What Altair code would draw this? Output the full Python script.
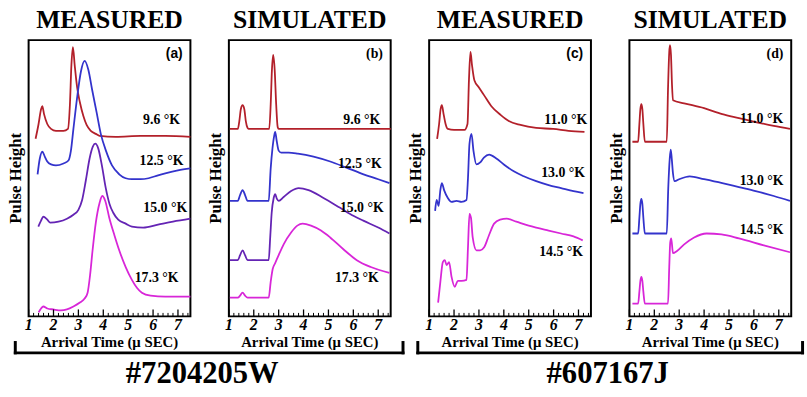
import altair as alt
import pandas as pd

SERIF = "Liberation Serif, Times New Roman, DejaVu Serif, serif"
SANS = "Liberation Sans, Arial, DejaVu Sans, sans-serif"

# ---------------- data ----------------
# Panel (a) MEASURED, #7204205W
a_red_x = [1.28, 1.4, 1.5, 1.55, 1.62, 1.75, 1.9, 2.1, 2.4, 2.58, 2.66, 2.72, 2.78, 2.85, 2.95, 3.06, 3.2, 3.33, 3.5, 3.7, 3.85, 4.5, 5.5, 6.5, 7.5]
a_red_y = [180, 195, 210, 213, 205, 195, 190, 188, 188, 190, 215, 255, 273, 255, 232, 217, 203, 194, 188, 185, 183, 182, 183, 183, 182]
a_blue_x = [1.36, 1.45, 1.55, 1.65, 1.75, 1.9, 2.1, 2.4, 2.6, 2.7, 2.8, 2.95, 3.1, 3.25, 3.4, 3.55, 3.73, 3.9, 4.12, 4.35, 4.64, 4.9, 5.15, 5.5, 5.82, 6.2, 6.49, 7.0, 7.5]
a_blue_y = [144, 160, 167, 162, 157, 154, 153, 155, 158, 168, 190, 222, 248, 259, 250, 230, 207, 185, 167, 153, 144, 140, 139, 139, 140, 143, 145, 148, 150]
a_purple_x = [1.39, 1.5, 1.59, 1.75, 1.87, 2.2, 2.54, 2.8, 3.0, 3.15, 3.3, 3.45, 3.58, 3.68, 3.8, 3.95, 4.1, 4.25, 4.4, 4.6, 4.9, 5.15, 5.6, 6.2, 6.8, 7.5]
a_purple_y = [91, 97, 101, 98, 95, 96, 99, 103, 108, 118, 138, 160, 172, 175, 170, 152, 130, 114, 105, 98, 94, 91, 90, 93, 96, 99]
a_mag_x = [1.4, 1.5, 1.59, 1.75, 1.99, 2.3, 2.54, 2.8, 3.06, 3.25, 3.37, 3.47, 3.57, 3.7, 3.85, 3.96, 4.08, 4.24, 4.45, 4.64, 4.9, 5.15, 5.35, 5.55, 5.9, 6.49, 7.0, 7.5]
a_mag_y = [4, 8, 10, 8, 7, 6, 7, 10, 14, 18, 24, 42, 67, 95, 115, 122, 117, 100, 82, 67, 50, 37, 29, 24, 21, 20, 20, 20]

# Panel (b) SIMULATED, #7204205W
b_red_x = [1.04, 1.36, 1.42, 1.48, 1.55, 1.62, 1.68, 1.75, 1.79, 2.62, 2.68, 2.73, 2.78, 2.84, 2.9, 2.96, 3.0, 7.5]
b_red_y = [190, 190, 198, 210, 214, 210, 198, 191, 190, 190, 215, 250, 265, 250, 215, 192, 190, 190]
b_blue_x = [1.04, 1.36, 1.45, 1.55, 1.65, 1.75, 2.6, 2.68, 2.75, 2.82, 2.86, 2.92, 3.0, 3.1, 3.4, 3.77, 4.4, 5.07, 5.7, 6.41, 7.0, 7.45]
b_blue_y = [117, 117, 123, 128, 123, 117, 117, 150, 170, 183, 187, 178, 168, 166, 166, 165, 162, 157, 151, 144, 139, 135]
b_purple_x = [1.04, 1.36, 1.45, 1.55, 1.65, 1.75, 2.6, 2.66, 2.72, 2.8, 2.86, 2.93, 3.0, 3.2, 3.5, 3.8, 4.2, 4.8, 5.47, 6.0, 6.4, 7.0, 7.45]
b_purple_y = [57, 57, 62, 67, 62, 57, 57, 80, 105, 120, 124, 119, 117, 121, 127, 130, 128, 120, 110, 102, 97, 90, 84]
b_mag_x = [1.04, 1.36, 1.45, 1.55, 1.65, 1.75, 2.6, 2.68, 2.76, 2.86, 3.0, 3.2, 3.5, 3.75, 3.96, 4.3, 4.7, 5.07, 5.6, 6.14, 6.7, 7.45]
b_mag_y = [19, 19, 21, 24, 21, 19, 19, 35, 48, 54, 62, 73, 85, 92, 94, 92, 87, 80, 68, 57, 50, 44]

# Panel (c) MEASURED, #607167J
c_red_x = [1.32, 1.4, 1.46, 1.51, 1.58, 1.66, 1.75, 2.0, 2.42, 2.54, 2.6, 2.66, 2.72, 2.82, 3.0, 3.21, 3.5, 3.88, 4.2, 4.67, 5.3, 5.98, 6.6, 7.24]
c_red_y = [180, 195, 210, 214, 205, 195, 190, 189, 189, 195, 240, 268, 255, 239, 232, 224, 213, 204, 198, 194, 191, 190, 188, 187]
c_blue_x = [1.24, 1.3, 1.38, 1.45, 1.51, 1.6, 1.75, 1.9, 2.1, 2.3, 2.5, 2.56, 2.62, 2.7, 2.78, 2.9, 3.05, 3.2, 3.41, 3.7, 4.0, 4.4, 4.8, 5.3, 5.8, 6.3, 6.8, 7.2]
c_blue_y = [107, 118, 112, 128, 135, 128, 120, 116, 117, 116, 118, 140, 175, 185, 168, 154, 156, 161, 164, 160, 154, 147, 142, 137, 133, 130, 127, 125]
c_mag_x = [1.36, 1.45, 1.55, 1.63, 1.7, 1.8, 1.9, 2.03, 2.15, 2.3, 2.5, 2.56, 2.62, 2.68, 2.75, 2.9, 3.05, 3.21, 3.4, 3.61, 3.85, 4.12, 4.5, 5.0, 5.3, 5.8, 6.3, 6.8, 7.17]
c_mag_y = [14, 35, 55, 57, 52, 55, 40, 30, 36, 36, 37, 70, 104, 100, 80, 67, 67, 70, 82, 94, 98, 99, 96, 92, 90, 87, 84, 81, 77]

# Panel (d) SIMULATED, #607167J
d_red_x = [1.12, 1.35, 1.4, 1.44, 1.48, 1.52, 1.56, 1.62, 2.5, 2.55, 2.6, 2.63, 2.67, 2.71, 2.75, 3.2, 4.0, 4.73, 5.4, 6.07, 6.8, 7.45]
d_red_y = [177, 177, 195, 210, 215, 210, 195, 177, 177, 230, 268, 275, 265, 235, 219, 216, 211, 205, 201, 197, 193, 190]
d_blue_x = [1.12, 1.35, 1.4, 1.44, 1.48, 1.52, 1.56, 1.62, 2.5, 2.56, 2.62, 2.66, 2.7, 2.75, 2.82, 3.0, 3.42, 4.0, 4.73, 5.4, 6.07, 6.8, 7.45]
d_blue_y = [84, 84, 100, 114, 119, 114, 100, 84, 84, 130, 160, 169, 160, 145, 137, 139, 142, 139, 135, 131, 127, 122, 117]
d_mag_x = [1.12, 1.35, 1.4, 1.44, 1.48, 1.52, 1.56, 1.62, 2.55, 2.6, 2.64, 2.68, 2.75, 2.9, 3.2, 3.6, 4.1, 4.7, 5.4, 6.4, 7.45]
d_mag_y = [13, 13, 25, 36, 40, 36, 25, 13, 13, 50, 75, 79, 64, 66, 73, 80, 84, 83, 79, 72, 65]

# curve labels: text, x, y
a_labels = ["9.6 °K", "12.5 °K", "15.0 °K", "17.3 °K"]
a_lab_x = [6.34, 6.34, 6.49, 6.14]
a_lab_y = [199, 157, 110, 39]
b_labels = ["9.6 °K", "12.5 °K", "15.0 °K", "17.3 °K"]
b_lab_x = [6.34, 6.26, 6.34, 6.14]
b_lab_y = [199, 154, 110, 39]
c_labels = ["11.0 °K", "13.0 °K", "14.5 °K"]
c_lab_x = [6.49, 6.38, 6.30]
c_lab_y = [199, 145, 65]
d_labels = ["11.0 °K", "13.0 °K", "14.5 °K"]
d_lab_x = [6.31, 6.31, 6.31]
d_lab_y = [200, 137, 87]

panel_titles = ["MEASURED", "SIMULATED", "MEASURED", "SIMULATED"]
panel_tags = ["(a)", "(b)", "(c)", "(d)"]
sample_names = ["#7204205W", "#607167J"]
x_title = "Arrival Time (μ SEC)"
y_title = "Pulse Height"

tick_labels = [1, 2, 3, 4, 5, 6, 7]
major_ticks = [1, 2, 3, 4, 5, 6, 7]
minor_ticks = [1.2, 1.4, 1.6, 1.8, 2.2, 2.4, 2.6, 2.8, 3.2, 3.4, 3.6, 3.8, 4.2, 4.4, 4.6, 4.8,
               5.2, 5.4, 5.6, 5.8, 6.2, 6.4, 6.6, 6.8, 7.2, 7.4]

series_keys = ["red", "blue", "purple", "magenta"]
series_colors = ["#b3202a", "#3333cc", "#6424b4", "#d826d8"]

W, H = 164, 280
XSCALE = alt.Scale(domain=[1, 7.5], nice=False, zero=False)
YSCALE = alt.Scale(domain=[0, 280], nice=False, zero=False)


def series_df(pairs):
    rows = []
    for key, xs, ys in pairs:
        for i, (x, y) in enumerate(zip(xs, ys)):
            rows.append({"s": key, "x": x, "y": y, "i": i})
    return pd.DataFrame(rows)


def one_text(t):
    return pd.DataFrame({"t": [t]})


def xq():
    return alt.X("x:Q", scale=XSCALE, axis=None)


def yq():
    return alt.Y("y:Q", scale=YSCALE, axis=None)


def panel(pairs, labels, lab_x, lab_y, tag, tag_font, title):
    df = series_df(pairs)
    lines = alt.Chart(df).mark_line(strokeWidth=1.8, interpolate="monotone").encode(
        x=xq(), y=yq(),
        color=alt.Color("s:N", scale=alt.Scale(domain=series_keys, range=series_colors), legend=None),
        order="i:Q",
    )
    lab_df = pd.DataFrame({"t": labels, "x": lab_x, "y": lab_y})
    texts = alt.Chart(lab_df).mark_text(font=SERIF, fontSize=14, fontWeight="bold",
                                        color="black", align="center", baseline="middle").encode(
        x=xq(), y=yq(), text="t:N")
    tag_df = pd.DataFrame({"t": [tag], "x": [6.85], "y": [266]})
    tagm = alt.Chart(tag_df).mark_text(font=tag_font, fontSize=14, fontWeight="bold",
                                       color="black", align="center", baseline="middle").encode(
        x=xq(), y=yq(), text="t:N")
    maj = alt.Chart(pd.DataFrame({"x": major_ticks})).mark_rule(color="black", strokeWidth=1.3).encode(
        x=xq(), y=alt.value(H), y2=alt.value(H - 7))
    mnr = alt.Chart(pd.DataFrame({"x": minor_ticks})).mark_rule(color="black", strokeWidth=1).encode(
        x=xq(), y=alt.value(H), y2=alt.value(H - 3.5))
    ticklab = alt.Chart(pd.DataFrame({"x": tick_labels})).mark_text(
        font=SERIF, fontSize=16, fontStyle="italic", fontWeight="bold", color="black",
        align="center", baseline="middle").encode(
        x=xq(), y=alt.value(H + 9), text=alt.Text("x:Q", format="d"))
    xt = alt.Chart(one_text(x_title)).mark_text(
        font=SERIF, fontSize=15, fontWeight="bold", color="black",
        align="center", baseline="middle").encode(
        x=alt.value(W / 2), y=alt.value(H + 26), text="t:N")
    yt = alt.Chart(one_text(y_title)).mark_text(
        font=SERIF, fontSize=17, fontWeight="bold", color="black", angle=270,
        align="center", baseline="middle").encode(
        x=alt.value(-13), y=alt.value(H / 2), text="t:N")
    head = alt.Chart(one_text(title)).mark_text(
        font=SERIF, fontSize=26, fontWeight="bold", color="black",
        align="center", baseline="alphabetic").encode(
        x=alt.value(W / 2), y=alt.value(-12), text="t:N")
    return alt.layer(lines, texts, tagm, maj, mnr, ticklab, xt, yt, head).properties(width=W, height=H)


def bracket(x_left, x_right, label, label_x):
    y0 = 317
    hline = alt.Chart(one_text("")).mark_rule(color="black", strokeWidth=3).encode(
        x=alt.value(x_left), x2=alt.value(x_right), y=alt.value(y0))
    vl = alt.Chart(one_text("")).mark_rule(color="black", strokeWidth=3).encode(
        x=alt.value(x_left + 1.5), y=alt.value(305), y2=alt.value(y0 + 1.5))
    vr = alt.Chart(one_text("")).mark_rule(color="black", strokeWidth=3).encode(
        x=alt.value(x_right - 1.5), y=alt.value(305), y2=alt.value(y0 + 1.5))
    txt = alt.Chart(one_text(label)).mark_text(
        font=SERIF, fontSize=31, fontWeight="bold", color="black",
        align="center", baseline="alphabetic").encode(
        x=alt.value(label_x), y=alt.value(348), text="t:N")
    return [hline, vl, vr, txt]


# invisible anchor fixing the top-left corner of the whole picture
anchor = alt.Chart(one_text("")).mark_rule(color="white", strokeWidth=0.01, opacity=0).encode(
    x=alt.value(-28), y=alt.value(-37), y2=alt.value(-36))

pa = panel([("red", a_red_x, a_red_y), ("blue", a_blue_x, a_blue_y),
            ("purple", a_purple_x, a_purple_y), ("magenta", a_mag_x, a_mag_y)],
           a_labels, a_lab_x, a_lab_y, panel_tags[0], SANS, panel_titles[0])
pb = panel([("red", b_red_x, b_red_y), ("blue", b_blue_x, b_blue_y),
            ("purple", b_purple_x, b_purple_y), ("magenta", b_mag_x, b_mag_y)],
           b_labels, b_lab_x, b_lab_y, panel_tags[1], SERIF, panel_titles[1])
pc = panel([("red", c_red_x, c_red_y), ("blue", c_blue_x, c_blue_y), ("magenta", c_mag_x, c_mag_y)],
           c_labels, c_lab_x, c_lab_y, panel_tags[2], SANS, panel_titles[2])
pd_ = panel([("red", d_red_x, d_red_y), ("blue", d_blue_x, d_blue_y), ("magenta", d_mag_x, d_mag_y)],
            d_labels, d_lab_x, d_lab_y, panel_tags[3], SERIF, panel_titles[3])

pa = alt.layer(pa, anchor, *bracket(-15, 381, sample_names[0], 176))
pc = alt.layer(pc, *bracket(-13, 380, sample_names[1], 181))

chart = alt.hconcat(pa, pb, pc, pd_, spacing=39, bounds="flush").properties(
    autosize=alt.AutoSizeParams(type="pad"),
    padding=0,
).configure(
    background="white",
    view=alt.ViewConfig(stroke="black", strokeWidth=2),
)

chart.save("out.html", embed_options={"renderer": "svg", "actions": False})
